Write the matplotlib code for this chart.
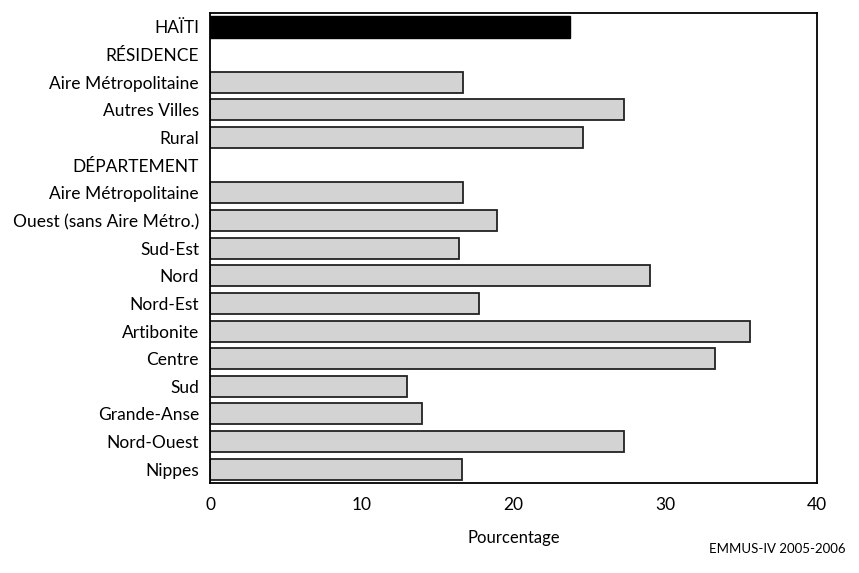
import numpy as np
import matplotlib.pyplot as plt

plt.rcParams['font.family'] = ['Lato', 'DejaVu Sans']

# categories (top to bottom) and percentages; None = section header row
labels = ['HAÏTI', 'RÉSIDENCE', 'Aire Métropolitaine', 'Autres Villes', 'Rural',
          'DÉPARTEMENT', 'Aire Métropolitaine', 'Ouest (sans Aire Métro.)',
          'Sud-Est', 'Nord', 'Nord-Est', 'Artibonite', 'Centre', 'Sud',
          'Grande-Anse', 'Nord-Ouest', 'Nippes']
values = [23.7, None, 16.7, 27.3, 24.6,
          None, 16.7, 18.9, 16.4, 29.0, 17.7, 35.6, 33.3, 13.0, 14.0, 27.3, 16.6]
xticks = [0, 10, 20, 30, 40]

fig = plt.figure(figsize=(8.59, 5.73), dpi=100)
ax = fig.add_axes([0.2445, 0.157, 0.7065, 0.820])

y = np.arange(len(labels))
for i, v in enumerate(values):
    if v is None:
        continue
    if i == 0:
        ax.barh(y[i], v, height=0.76, color='black', edgecolor='black', linewidth=1)
    else:
        ax.barh(y[i], v, height=0.76, color='#d3d3d3', edgecolor='#222222',
                linewidth=1.3)

ax.set_xlim(0, 40)
ax.set_ylim(len(labels) - 0.5, -0.5)
ax.set_yticks(y)
ax.set_yticklabels(labels, fontsize=12.5)
ax.set_xticks(xticks)
ax.set_xticklabels([str(t) for t in xticks], fontsize=12.5)
ax.tick_params(length=0, pad=8)
ax.tick_params(axis='x', pad=10)
ax.set_xlabel('Pourcentage', fontsize=12, labelpad=12)
for s in ax.spines.values():
    s.set_linewidth(1.3)

fig.text(0.985, 0.035, 'EMMUS-IV 2005-2006', ha='right', fontsize=9.5)

fig.savefig('out.png', dpi=100)
